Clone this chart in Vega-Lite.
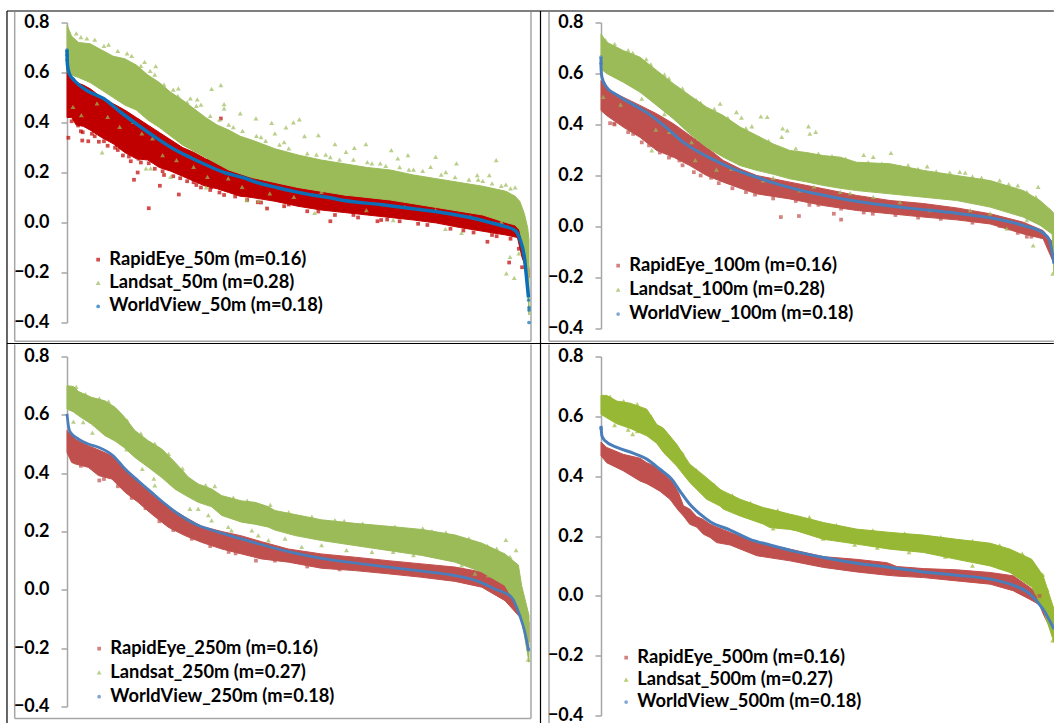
{"$schema":"https://vega.github.io/schema/vega-lite/v6.json","background":"white","padding":{"left":6,"top":9.5,"right":0,"bottom":0},"bounds":"flush","columns":2,"spacing":{"row":28,"column":72},"resolve":{"scale":{"color":"independent","shape":"independent"},"legend":{"color":"independent","shape":"independent"}},
"config":{"view":{"stroke":null},"axis":{"labelFont":"Lato","labelFontWeight":"bold","labelFontSize":18,"labelColor":"#000000","domainColor":"#a6a6a6","domainWidth":1.5,"tickColor":"#a6a6a6","tickWidth":1.5,"tickSize":6,"labelPadding":12,"grid":false,"title":null},"legend":{"labelFont":"Lato","labelFontWeight":"bold","labelFontSize":18.3,"labelColor":"#000000","title":null,"padding":0,"symbolSize":14,"labelOffset":2,"symbolStrokeWidth":0,"labelLimit":400},"area":{"strokeWidth":1},"point":{"filled":true,"strokeWidth":0}},
"datasets":{
"frameBlack":[{"x":-12.99,"x2":213.6,"y":0.846,"y2":0.846},{"x":-12.99,"x2":213.6,"y":-0.484,"y2":-0.484},{"x":-12.99,"x2":-12.99,"y":0.846,"y2":-2.004},{"x":102.49,"x2":102.49,"y":0.846,"y2":-2.004}],
"frameGrey":[{"x":-11.32,"x2":-11.32,"y":0.842,"y2":-0.475},{"x":100.43,"x2":100.43,"y":0.842,"y2":-0.475},{"x":-11.32,"x2":100.43,"y":-0.475,"y2":-0.475},{"x":104.33,"x2":104.33,"y":0.842,"y2":-0.475},{"x":104.33,"x2":213.6,"y":-0.475,"y2":-0.475},{"x":-11.32,"x2":-11.32,"y":-0.488,"y2":-1.984},{"x":100.43,"x2":100.43,"y":-0.488,"y2":-1.984},{"x":-11.32,"x2":100.43,"y":-1.984,"y2":-1.984},{"x":104.33,"x2":104.33,"y":-0.488,"y2":-2.004}],
"A_r":[{"x":0,"lo":0.42,"hi":0.62},{"x":1,"lo":0.42,"hi":0.58},{"x":2,"lo":0.39,"hi":0.56},{"x":3.5,"lo":0.385,"hi":0.55},{"x":5,"lo":0.37,"hi":0.535},{"x":7.5,"lo":0.34,"hi":0.5},{"x":10,"lo":0.315,"hi":0.475},{"x":12.5,"lo":0.28,"hi":0.45},{"x":15,"lo":0.255,"hi":0.42},{"x":17.5,"lo":0.25,"hi":0.39},{"x":20,"lo":0.22,"hi":0.36},{"x":22.5,"lo":0.205,"hi":0.33},{"x":25,"lo":0.185,"hi":0.3},{"x":27.5,"lo":0.165,"hi":0.28},{"x":30,"lo":0.145,"hi":0.255},{"x":32.5,"lo":0.135,"hi":0.24},{"x":35,"lo":0.12,"hi":0.22},{"x":37.5,"lo":0.105,"hi":0.2},{"x":40,"lo":0.1,"hi":0.19},{"x":45,"lo":0.085,"hi":0.16},{"x":50,"lo":0.065,"hi":0.14},{"x":55,"lo":0.05,"hi":0.125},{"x":60,"lo":0.04,"hi":0.115},{"x":65,"lo":0.03,"hi":0.1},{"x":70,"lo":0.02,"hi":0.09},{"x":75,"lo":0.01,"hi":0.08},{"x":80,"lo":-0.002,"hi":0.07},{"x":85,"lo":-0.02,"hi":0.06},{"x":90,"lo":-0.035,"hi":0.04},{"x":95,"lo":-0.05,"hi":0.02},{"x":97.5,"lo":-0.06,"hi":0.0},{"x":98.5,"lo":-0.14,"hi":-0.05},{"x":99.5,"lo":-0.19,"hi":-0.1},{"x":100,"lo":-0.22,"hi":-0.19}],
"A_l":[{"x":0,"lo":0.6,"hi":0.79},{"x":1,"lo":0.59,"hi":0.745},{"x":2.5,"lo":0.58,"hi":0.72},{"x":5,"lo":0.56,"hi":0.715},{"x":7.5,"lo":0.53,"hi":0.69},{"x":10,"lo":0.5,"hi":0.665},{"x":12.5,"lo":0.47,"hi":0.655},{"x":15,"lo":0.45,"hi":0.63},{"x":17.5,"lo":0.41,"hi":0.59},{"x":20,"lo":0.38,"hi":0.56},{"x":22.5,"lo":0.345,"hi":0.52},{"x":25,"lo":0.31,"hi":0.49},{"x":27.5,"lo":0.285,"hi":0.455},{"x":30,"lo":0.26,"hi":0.42},{"x":32.5,"lo":0.235,"hi":0.39},{"x":35,"lo":0.21,"hi":0.37},{"x":37.5,"lo":0.195,"hi":0.345},{"x":40,"lo":0.18,"hi":0.33},{"x":45,"lo":0.16,"hi":0.295},{"x":50,"lo":0.14,"hi":0.27},{"x":55,"lo":0.125,"hi":0.25},{"x":60,"lo":0.11,"hi":0.235},{"x":65,"lo":0.1,"hi":0.22},{"x":70,"lo":0.09,"hi":0.21},{"x":75,"lo":0.075,"hi":0.19},{"x":80,"lo":0.06,"hi":0.175},{"x":85,"lo":0.045,"hi":0.16},{"x":90,"lo":0.03,"hi":0.145},{"x":95,"lo":0.0,"hi":0.125},{"x":97,"lo":-0.01,"hi":0.105},{"x":98,"lo":-0.03,"hi":0.085},{"x":99,"lo":-0.12,"hi":0.035},{"x":99.7,"lo":-0.25,"hi":-0.02},{"x":100,"lo":-0.37,"hi":-0.07}],
"A_w":[{"x":0,"y":0.69},{"x":0.1,"y":0.63},{"x":0.5,"y":0.595},{"x":1.5,"y":0.57},{"x":4.3,"y":0.528},{"x":8,"y":0.495},{"x":11.7,"y":0.44},{"x":15.5,"y":0.388},{"x":19.2,"y":0.34},{"x":23,"y":0.295},{"x":26.7,"y":0.26},{"x":30.4,"y":0.228},{"x":34,"y":0.2},{"x":38,"y":0.18},{"x":41.7,"y":0.157},{"x":45.4,"y":0.14},{"x":49,"y":0.125},{"x":53,"y":0.11},{"x":56.6,"y":0.1},{"x":60,"y":0.088},{"x":67.8,"y":0.072},{"x":75,"y":0.055},{"x":82.8,"y":0.035},{"x":90,"y":0.008},{"x":94,"y":-0.012},{"x":97,"y":-0.032},{"x":98,"y":-0.065},{"x":99,"y":-0.14},{"x":99.6,"y":-0.245},{"x":99.9,"y":-0.3}],
"A_p":[{"s":"R","x":0.3,"y":0.339},{"s":"R","x":3.3,"y":0.328},{"s":"R","x":4.6,"y":0.325},{"s":"R","x":6.9,"y":0.323},{"s":"R","x":8.8,"y":0.307},{"s":"R","x":10.4,"y":0.299},{"s":"R","x":12.1,"y":0.268},{"s":"R","x":13.4,"y":0.264},{"s":"R","x":13.8,"y":0.245},{"s":"R","x":15.5,"y":0.255},{"s":"R","x":17.7,"y":0.237},{"s":"R","x":15.3,"y":0.2},{"s":"R","x":14.5,"y":0.171},{"s":"R","x":20.1,"y":0.147},{"s":"R","x":24.2,"y":0.112},{"s":"R","x":17.7,"y":0.057},{"s":"R","x":33.3,"y":0.416},{"s":"R","x":20.7,"y":0.205},{"s":"R","x":24.5,"y":0.177},{"s":"R","x":27.4,"y":0.161},{"s":"R","x":31.2,"y":0.141},{"s":"R","x":36.4,"y":0.104},{"s":"R","x":41.3,"y":0.081},{"s":"R","x":43.3,"y":0.056},{"s":"R","x":54.4,"y":0.044},{"s":"R","x":57,"y":0.005},{"s":"R","x":67.2,"y":0.005},{"s":"R","x":69.3,"y":0.012},{"s":"R","x":91,"y":-0.077},{"s":"R","x":95.7,"y":-0.16},{"s":"R","x":85.8,"y":-0.032},{"s":"R","x":3.4,"y":0.361},{"s":"R","x":5.4,"y":0.355},{"s":"R","x":2.4,"y":0.388},{"s":"R","x":97.8,"y":-0.105},{"s":"R","x":98.5,"y":-0.179},{"s":"R","x":48,"y":0.072},{"s":"R","x":62,"y":0.03},{"s":"R","x":76,"y":-0.005},{"s":"R","x":88,"y":-0.04},{"s":"R","x":93,"y":-0.055},{"s":"R","x":1,"y":0.405},{"s":"R","x":3,"y":0.365},{"s":"R","x":6,"y":0.345},{"s":"R","x":8,"y":0.325},{"s":"R","x":11,"y":0.29},{"s":"R","x":16,"y":0.24},{"s":"R","x":19,"y":0.215},{"s":"R","x":21,"y":0.19},{"s":"R","x":23,"y":0.185},{"s":"R","x":26,"y":0.165},{"s":"R","x":28,"y":0.15},{"s":"R","x":29,"y":0.14},{"s":"R","x":31,"y":0.13},{"s":"R","x":33,"y":0.12},{"s":"R","x":34,"y":0.11},{"s":"R","x":39,"y":0.09},{"s":"R","x":42,"y":0.08},{"s":"R","x":47,"y":0.065},{"s":"R","x":52,"y":0.045},{"s":"R","x":58,"y":0.03},{"s":"R","x":63,"y":0.02},{"s":"R","x":68,"y":0.01},{"s":"R","x":72,"y":0.005},{"s":"R","x":78,"y":-0.01},{"s":"R","x":83,"y":-0.025},{"s":"R","x":92,"y":-0.05},{"s":"R","x":96,"y":-0.065},
{"s":"L","x":33.3,"y":0.548},{"s":"L","x":31.3,"y":0.533},{"s":"L","x":34,"y":0.472},{"s":"L","x":34,"y":0.455},{"s":"L","x":37.5,"y":0.435},{"s":"L","x":40.9,"y":0.415},{"s":"L","x":44.3,"y":0.397},{"s":"L","x":50.3,"y":0.411},{"s":"L","x":49,"y":0.399},{"s":"L","x":47.4,"y":0.379},{"s":"L","x":45,"y":0.355},{"s":"L","x":54.4,"y":0.348},{"s":"L","x":51.4,"y":0.344},{"s":"L","x":58,"y":0.312},{"s":"L","x":62.2,"y":0.297},{"s":"L","x":64.7,"y":0.312},{"s":"L","x":70.2,"y":0.288},{"s":"L","x":79.8,"y":0.261},{"s":"L","x":92.9,"y":0.248},{"s":"L","x":84.3,"y":0.235},{"s":"L","x":73.8,"y":0.268},{"s":"L","x":60.4,"y":0.281},{"s":"L","x":95.1,"y":-0.205},{"s":"L","x":96.8,"y":-0.223},{"s":"L","x":85.4,"y":-0.043},{"s":"L","x":81.9,"y":-0.027},{"s":"L","x":53.6,"y":0.037},{"s":"L","x":7.6,"y":0.279},{"s":"L","x":17.1,"y":0.215},{"s":"L","x":18.1,"y":0.215},{"s":"L","x":22.4,"y":0.181},{"s":"L","x":30.1,"y":0.139},{"s":"L","x":38.9,"y":0.088},{"s":"L","x":41.5,"y":0.085},{"s":"L","x":95.9,"y":-0.139},{"s":"L","x":70.6,"y":0.008},{"s":"L","x":16.8,"y":0.641},{"s":"L","x":19.2,"y":0.624},{"s":"L","x":4.3,"y":0.735},{"s":"L","x":24.1,"y":0.535},{"s":"L","x":26.7,"y":0.495},{"s":"L","x":28.2,"y":0.491},{"s":"L","x":97,"y":0.139},{"s":"L","x":91.4,"y":0.188},{"s":"L","x":88.8,"y":0.188},{"s":"L","x":67.8,"y":0.235},{"s":"L","x":78.7,"y":0.221},{"s":"L","x":71.6,"y":0.255},{"s":"L","x":1.3,"y":0.461},{"s":"L","x":3.1,"y":0.428},{"s":"L","x":6.5,"y":0.475},{"s":"L","x":8.8,"y":0.421},{"s":"L","x":11.4,"y":0.381},{"s":"L","x":14.4,"y":0.401},{"s":"L","x":16.2,"y":0.355},{"s":"L","x":18.5,"y":0.335},{"s":"L","x":20.7,"y":0.268},{"s":"L","x":23.7,"y":0.248},{"s":"L","x":27.4,"y":0.221},{"s":"L","x":30.4,"y":0.181},{"s":"L","x":34.9,"y":0.175},{"s":"L","x":37.9,"y":0.141},{"s":"L","x":43.9,"y":0.115},{"s":"L","x":49.1,"y":0.101},{"s":"L","x":55.1,"y":0.121},{"s":"L","x":60.4,"y":0.115},{"s":"L","x":64.8,"y":0.048},{"s":"L","x":73.1,"y":0.061},{"s":"L","x":79.8,"y":0.048},{"s":"L","x":87.3,"y":0.021},{"s":"L","x":94,"y":0.001},{"s":"L","x":97.8,"y":-0.125},{"s":"L","x":12,"y":0.5},{"s":"L","x":15.5,"y":0.47},{"s":"L","x":29,"y":0.47},{"s":"L","x":36,"y":0.38},{"s":"L","x":42,"y":0.34},{"s":"L","x":47,"y":0.32},{"s":"L","x":56,"y":0.27},{"s":"L","x":65,"y":0.24},{"s":"L","x":75,"y":0.21},{"s":"L","x":82,"y":0.2},{"s":"L","x":90,"y":0.165},{"s":"L","x":95,"y":0.15},{"s":"L","x":2,"y":0.755},{"s":"L","x":3,"y":0.74},{"s":"L","x":6,"y":0.73},{"s":"L","x":8,"y":0.705},{"s":"L","x":9,"y":0.71},{"s":"L","x":11,"y":0.685},{"s":"L","x":13,"y":0.675},{"s":"L","x":14,"y":0.665},{"s":"L","x":16,"y":0.625},{"s":"L","x":18,"y":0.605},{"s":"L","x":19,"y":0.59},{"s":"L","x":21,"y":0.55},{"s":"L","x":23,"y":0.53},{"s":"L","x":24,"y":0.505},{"s":"L","x":26,"y":0.48},{"s":"L","x":28,"y":0.465},{"s":"L","x":31,"y":0.425},{"s":"L","x":33,"y":0.41},{"s":"L","x":35,"y":0.39},{"s":"L","x":38,"y":0.365},{"s":"L","x":41,"y":0.345},{"s":"L","x":43,"y":0.325},{"s":"L","x":46,"y":0.31},{"s":"L","x":48,"y":0.295},{"s":"L","x":52,"y":0.275},{"s":"L","x":54,"y":0.27},{"s":"L","x":57,"y":0.26},{"s":"L","x":59,"y":0.25},{"s":"L","x":62,"y":0.25},{"s":"L","x":66,"y":0.235},{"s":"L","x":69,"y":0.225},{"s":"L","x":72,"y":0.22},{"s":"L","x":74,"y":0.21},{"s":"L","x":77,"y":0.205},{"s":"L","x":81,"y":0.19},{"s":"L","x":84,"y":0.18},{"s":"L","x":87,"y":0.17},{"s":"L","x":89,"y":0.17},{"s":"L","x":92,"y":0.155},{"s":"L","x":94,"y":0.145},{"s":"L","x":96,"y":0.135},
{"s":"W","x":0,"y":0.69},{"s":"W","x":0,"y":0.67},{"s":"W","x":0,"y":0.65},{"s":"W","x":99.9,"y":-0.31},{"s":"W","x":100,"y":-0.34},{"s":"W","x":100,"y":-0.35},{"s":"W","x":100,"y":-0.4}],
"B_r":[{"x":0,"lo":0.455,"hi":0.572},{"x":1.25,"lo":0.435,"hi":0.54},{"x":4.9,"lo":0.39,"hi":0.507},{"x":8.6,"lo":0.35,"hi":0.475},{"x":12.3,"lo":0.298,"hi":0.442},{"x":16,"lo":0.272,"hi":0.403},{"x":19.6,"lo":0.239,"hi":0.357},{"x":23.3,"lo":0.2,"hi":0.311},{"x":27,"lo":0.174,"hi":0.259},{"x":30.7,"lo":0.15,"hi":0.226},{"x":34.4,"lo":0.128,"hi":0.2},{"x":41.7,"lo":0.108,"hi":0.174},{"x":49.1,"lo":0.082,"hi":0.148},{"x":56.4,"lo":0.063,"hi":0.122},{"x":63.8,"lo":0.05,"hi":0.102},{"x":71.2,"lo":0.037,"hi":0.09},{"x":78.5,"lo":0.026,"hi":0.073},{"x":85.9,"lo":0.01,"hi":0.05},{"x":93.2,"lo":-0.029,"hi":0.017},{"x":97.6,"lo":-0.048,"hi":-0.016},{"x":100,"lo":-0.146,"hi":-0.068}],
"B_l":[{"x":0,"lo":0.618,"hi":0.755},{"x":1.25,"lo":0.6,"hi":0.723},{"x":4.9,"lo":0.566,"hi":0.69},{"x":8.6,"lo":0.527,"hi":0.664},{"x":12.3,"lo":0.475,"hi":0.612},{"x":16,"lo":0.422,"hi":0.56},{"x":19.6,"lo":0.363,"hi":0.514},{"x":23.3,"lo":0.311,"hi":0.468},{"x":27,"lo":0.272,"hi":0.435},{"x":30.7,"lo":0.239,"hi":0.39},{"x":34.4,"lo":0.22,"hi":0.357},{"x":38,"lo":0.205,"hi":0.324},{"x":41.7,"lo":0.187,"hi":0.298},{"x":45.4,"lo":0.175,"hi":0.29},{"x":49.1,"lo":0.161,"hi":0.278},{"x":52.8,"lo":0.15,"hi":0.272},{"x":56.4,"lo":0.141,"hi":0.252},{"x":63.8,"lo":0.128,"hi":0.246},{"x":71.2,"lo":0.115,"hi":0.22},{"x":78.5,"lo":0.102,"hi":0.2},{"x":85.9,"lo":0.076,"hi":0.18},{"x":93.2,"lo":0.037,"hi":0.141},{"x":96.9,"lo":0.005,"hi":0.102},{"x":99.6,"lo":-0.03,"hi":0.06},{"x":100,"lo":-0.185,"hi":0.05}],
"B_w":[{"x":0,"y":0.664},{"x":0,"y":0.625},{"x":0.2,"y":0.586},{"x":1.25,"y":0.546},{"x":3.1,"y":0.52},{"x":4.9,"y":0.5},{"x":7.1,"y":0.478},{"x":10,"y":0.448},{"x":12.3,"y":0.418},{"x":15.2,"y":0.376},{"x":18.2,"y":0.33},{"x":21,"y":0.298},{"x":24,"y":0.269},{"x":29.2,"y":0.226},{"x":34.4,"y":0.193},{"x":38.8,"y":0.167},{"x":44.7,"y":0.139},{"x":51.3,"y":0.115},{"x":58.6,"y":0.093},{"x":67.5,"y":0.073},{"x":78.5,"y":0.052},{"x":85.9,"y":0.034},{"x":93.2,"y":0.004},{"x":97.6,"y":-0.025},{"x":99,"y":-0.055},{"x":100,"y":-0.146}],
"B_p":[{"s":"R","x":39.7,"y":0.037},{"s":"R","x":43.7,"y":0.041},{"s":"R","x":51.4,"y":0.05},{"s":"R","x":53,"y":0.027},{"s":"R","x":10.6,"y":0.318},{"s":"R","x":2,"y":0.405},{"s":"R","x":2.9,"y":0.403},{"s":"R","x":7.1,"y":0.363},{"s":"R","x":15.6,"y":0.278},{"s":"R","x":17.3,"y":0.259},{"s":"R","x":20.5,"y":0.213},{"s":"R","x":24.3,"y":0.191},{"s":"R","x":28.1,"y":0.174},{"s":"R","x":34,"y":0.125},{"s":"R","x":36,"y":0.138},{"s":"R","x":46,"y":0.085},{"s":"R","x":60,"y":0.05},{"s":"R","x":94,"y":-0.04},{"s":"R","x":3,"y":0.4},{"s":"R","x":6,"y":0.37},{"s":"R","x":9,"y":0.33},{"s":"R","x":13,"y":0.29},{"s":"R","x":15,"y":0.27},{"s":"R","x":18,"y":0.24},{"s":"R","x":22,"y":0.2},{"s":"R","x":26,"y":0.17},{"s":"R","x":29,"y":0.15},{"s":"R","x":32,"y":0.135},{"s":"R","x":38,"y":0.11},{"s":"R","x":43,"y":0.1},{"s":"R","x":48,"y":0.085},{"s":"R","x":53,"y":0.07},{"s":"R","x":58,"y":0.055},{"s":"R","x":65,"y":0.045},{"s":"R","x":70,"y":0.035},{"s":"R","x":75,"y":0.03},{"s":"R","x":82,"y":0.015},{"s":"R","x":88,"y":0.002},{"s":"R","x":92,"y":-0.025},{"s":"R","x":95,"y":-0.04},
{"s":"L","x":35.3,"y":0.431},{"s":"L","x":36.7,"y":0.429},{"s":"L","x":40.1,"y":0.384},{"s":"L","x":41.1,"y":0.376},{"s":"L","x":45.8,"y":0.392},{"s":"L","x":47.4,"y":0.37},{"s":"L","x":46.1,"y":0.363},{"s":"L","x":39.9,"y":0.35},{"s":"L","x":26.3,"y":0.481},{"s":"L","x":29.9,"y":0.448},{"s":"L","x":31,"y":0.426},{"s":"L","x":33.3,"y":0.392},{"s":"L","x":60.1,"y":0.272},{"s":"L","x":64,"y":0.288},{"s":"L","x":67.8,"y":0.239},{"s":"L","x":79.2,"y":0.213},{"s":"L","x":80.4,"y":0.21},{"s":"L","x":96.5,"y":0.154},{"s":"L","x":89.6,"y":-0.009},{"s":"L","x":95.4,"y":-0.075},{"s":"L","x":99.7,"y":-0.186},{"s":"L","x":11.2,"y":0.298},{"s":"L","x":4.3,"y":0.477},{"s":"L","x":0.5,"y":0.507},{"s":"L","x":12.1,"y":0.379},{"s":"L","x":15.1,"y":0.37},{"s":"L","x":20.8,"y":0.259},{"s":"L","x":25.5,"y":0.222},{"s":"L","x":28.8,"y":0.226},{"s":"L","x":35.8,"y":0.18},{"s":"L","x":43.9,"y":0.141},{"s":"L","x":52.8,"y":0.135},{"s":"L","x":60.1,"y":0.115},{"s":"L","x":66,"y":0.095},{"s":"L","x":72.6,"y":0.063},{"s":"L","x":81.5,"y":0.063},{"s":"L","x":85.9,"y":0.05},{"s":"L","x":94,"y":0.024},{"s":"L","x":9,"y":0.5},{"s":"L","x":14,"y":0.44},{"s":"L","x":20,"y":0.33},{"s":"L","x":38,"y":0.19},{"s":"L","x":47,"y":0.155},{"s":"L","x":55,"y":0.13},{"s":"L","x":58,"y":0.28},{"s":"L","x":72,"y":0.235},{"s":"L","x":88,"y":0.18},{"s":"L","x":92,"y":0.16},{"s":"L","x":1,"y":0.73},{"s":"L","x":3,"y":0.715},{"s":"L","x":6,"y":0.69},{"s":"L","x":7,"y":0.68},{"s":"L","x":10,"y":0.655},{"s":"L","x":11,"y":0.635},{"s":"L","x":14,"y":0.595},{"s":"L","x":15,"y":0.58},{"s":"L","x":18,"y":0.54},{"s":"L","x":21,"y":0.495},{"s":"L","x":22,"y":0.485},{"s":"L","x":25,"y":0.46},{"s":"L","x":28,"y":0.425},{"s":"L","x":32,"y":0.385},{"s":"L","x":35,"y":0.345},{"s":"L","x":37,"y":0.335},{"s":"L","x":43,"y":0.305},{"s":"L","x":48,"y":0.285},{"s":"L","x":51,"y":0.275},{"s":"L","x":54,"y":0.265},{"s":"L","x":59,"y":0.25},{"s":"L","x":62,"y":0.245},{"s":"L","x":66,"y":0.235},{"s":"L","x":70,"y":0.225},{"s":"L","x":74,"y":0.215},{"s":"L","x":77,"y":0.21},{"s":"L","x":82,"y":0.195},{"s":"L","x":84,"y":0.19},{"s":"L","x":90,"y":0.165},{"s":"L","x":94,"y":0.135},{"s":"L","x":96,"y":0.115},
{"s":"W","x":0,"y":0.664},{"s":"W","x":0,"y":0.64}],
"C_r":[{"x":0,"lo":0.471,"hi":0.546},{"x":1,"lo":0.437,"hi":0.53},{"x":1.7,"lo":0.432,"hi":0.517},{"x":4.6,"lo":0.42,"hi":0.494},{"x":6.8,"lo":0.392,"hi":0.48},{"x":9.7,"lo":0.38,"hi":0.46},{"x":12.6,"lo":0.334,"hi":0.412},{"x":15.4,"lo":0.3,"hi":0.369},{"x":18.3,"lo":0.26,"hi":0.329},{"x":21.9,"lo":0.215,"hi":0.285},{"x":25.5,"lo":0.186,"hi":0.25},{"x":29.1,"lo":0.163,"hi":0.218},{"x":33.5,"lo":0.14,"hi":0.2},{"x":37.8,"lo":0.123,"hi":0.185},{"x":42.1,"lo":0.106,"hi":0.165},{"x":47.9,"lo":0.095,"hi":0.14},{"x":55.1,"lo":0.074,"hi":0.123},{"x":62.3,"lo":0.066,"hi":0.112},{"x":69.5,"lo":0.055,"hi":0.1},{"x":76.8,"lo":0.043,"hi":0.089},{"x":84,"lo":0.029,"hi":0.078},{"x":89.8,"lo":0.009,"hi":0.061},{"x":94.8,"lo":-0.037,"hi":0.02},{"x":97.7,"lo":-0.088,"hi":-0.02},{"x":98.4,"lo":-0.1,"hi":-0.065},{"x":100,"lo":-0.179,"hi":-0.111}],
"C_l":[{"x":0,"lo":0.62,"hi":0.7},{"x":1.4,"lo":0.61,"hi":0.697},{"x":2.5,"lo":0.597,"hi":0.68},{"x":5.3,"lo":0.568,"hi":0.66},{"x":8.2,"lo":0.529,"hi":0.648},{"x":10.4,"lo":0.51,"hi":0.626},{"x":12.2,"lo":0.49,"hi":0.597},{"x":14.7,"lo":0.454,"hi":0.546},{"x":17.6,"lo":0.42,"hi":0.511},{"x":20.5,"lo":0.385,"hi":0.483},{"x":23.4,"lo":0.345,"hi":0.437},{"x":26.3,"lo":0.318,"hi":0.386},{"x":28.4,"lo":0.3,"hi":0.363},{"x":31.3,"lo":0.285,"hi":0.346},{"x":33.5,"lo":0.255,"hi":0.323},{"x":37.8,"lo":0.232,"hi":0.305},{"x":40.7,"lo":0.225,"hi":0.3},{"x":43.6,"lo":0.215,"hi":0.285},{"x":45,"lo":0.205,"hi":0.272},{"x":49.4,"lo":0.186,"hi":0.258},{"x":55.1,"lo":0.169,"hi":0.24},{"x":62.3,"lo":0.152,"hi":0.228},{"x":69.5,"lo":0.135,"hi":0.218},{"x":76.8,"lo":0.118,"hi":0.207},{"x":84,"lo":0.095,"hi":0.188},{"x":89.8,"lo":0.061,"hi":0.16},{"x":94.8,"lo":0.015,"hi":0.123},{"x":97.7,"lo":-0.065,"hi":0.085},{"x":98.4,"lo":-0.1,"hi":0.015},{"x":100,"lo":-0.248,"hi":-0.088}],
"C_w":[{"x":0,"y":0.603},{"x":0.3,"y":0.563},{"x":0.65,"y":0.542},{"x":2.5,"y":0.517},{"x":4.6,"y":0.5},{"x":6.8,"y":0.489},{"x":10,"y":0.46},{"x":12.6,"y":0.414},{"x":15.4,"y":0.374},{"x":18.3,"y":0.334},{"x":21.2,"y":0.295},{"x":24.1,"y":0.26},{"x":27.7,"y":0.226},{"x":31.3,"y":0.205},{"x":35.6,"y":0.184},{"x":40.7,"y":0.161},{"x":47.9,"y":0.131},{"x":55.1,"y":0.108},{"x":62.3,"y":0.092},{"x":69.5,"y":0.078},{"x":76.8,"y":0.064},{"x":84,"y":0.049},{"x":89,"y":0.029},{"x":92.6,"y":0.003},{"x":96.2,"y":-0.025},{"x":98,"y":-0.088},{"x":99.1,"y":-0.145},{"x":99.9,"y":-0.208}],
"C_p":[{"s":"R","x":36.5,"y":0.125},{"s":"R","x":40.9,"y":0.1},{"s":"R","x":7,"y":0.375},{"s":"R","x":96.5,"y":-0.04},{"s":"R","x":3,"y":0.425},{"s":"R","x":8,"y":0.38},{"s":"R","x":11,"y":0.355},{"s":"R","x":14,"y":0.315},{"s":"R","x":17,"y":0.28},{"s":"R","x":20,"y":0.235},{"s":"R","x":23,"y":0.205},{"s":"R","x":27,"y":0.175},{"s":"R","x":31,"y":0.15},{"s":"R","x":35,"y":0.13},{"s":"R","x":45,"y":0.1},{"s":"R","x":52,"y":0.08},{"s":"R","x":59,"y":0.07},
{"s":"L","x":1.4,"y":0.576},{"s":"L","x":3.5,"y":0.574},{"s":"L","x":5.5,"y":0.538},{"s":"L","x":8.6,"y":0.534},{"s":"L","x":12.9,"y":0.481},{"s":"L","x":16.3,"y":0.414},{"s":"L","x":18.8,"y":0.38},{"s":"L","x":19,"y":0.357},{"s":"L","x":26.6,"y":0.277},{"s":"L","x":28.4,"y":0.277},{"s":"L","x":30.6,"y":0.255},{"s":"L","x":31.3,"y":0.237},{"s":"L","x":34.9,"y":0.215},{"s":"L","x":35.6,"y":0.203},{"s":"L","x":40,"y":0.203},{"s":"L","x":41.4,"y":0.186},{"s":"L","x":43.6,"y":0.169},{"s":"L","x":47.2,"y":0.175},{"s":"L","x":50.8,"y":0.146},{"s":"L","x":55.1,"y":0.152},{"s":"L","x":60.5,"y":0.135},{"s":"L","x":66,"y":0.129},{"s":"L","x":70.6,"y":0.129},{"s":"L","x":75,"y":0.118},{"s":"L","x":79.7,"y":0.118},{"s":"L","x":85.4,"y":0.083},{"s":"L","x":88.3,"y":0.055},{"s":"L","x":91.2,"y":0.049},{"s":"L","x":95.9,"y":0.112},{"s":"L","x":97.3,"y":0.083},{"s":"L","x":95,"y":0.17},{"s":"L","x":97.2,"y":0.135},{"s":"L","x":77,"y":0.21},{"s":"L","x":60,"y":0.235},{"s":"L","x":32,"y":0.355},{"s":"L","x":21,"y":0.47},{"s":"L","x":99.8,"y":-0.24},{"s":"L","x":2,"y":0.695},{"s":"L","x":4,"y":0.67},{"s":"L","x":7,"y":0.655},{"s":"L","x":9,"y":0.645},{"s":"L","x":13,"y":0.58},{"s":"L","x":16,"y":0.535},{"s":"L","x":19,"y":0.5},{"s":"L","x":22,"y":0.465},{"s":"L","x":25,"y":0.415},{"s":"L","x":30,"y":0.358},{"s":"L","x":36,"y":0.315},{"s":"L","x":39,"y":0.305},{"s":"L","x":44,"y":0.29},{"s":"L","x":48,"y":0.265},{"s":"L","x":53,"y":0.25},{"s":"L","x":58,"y":0.238},{"s":"L","x":64,"y":0.226},{"s":"L","x":71,"y":0.216},{"s":"L","x":79,"y":0.2},{"s":"L","x":82,"y":0.196},{"s":"L","x":87,"y":0.175},{"s":"L","x":91,"y":0.15},{"s":"L","x":93,"y":0.14},
{"s":"W","x":99.9,"y":-0.205}],
"D_r":[{"x":0,"lo":0.468,"hi":0.514},{"x":1.25,"lo":0.445,"hi":0.496},{"x":4.9,"lo":0.418,"hi":0.473},{"x":8.6,"lo":0.384,"hi":0.46},{"x":10.1,"lo":0.375,"hi":0.445},{"x":11.6,"lo":0.362,"hi":0.435},{"x":13,"lo":0.35,"hi":0.418},{"x":15.2,"lo":0.323,"hi":0.39},{"x":15.6,"lo":0.315,"hi":0.384},{"x":17.1,"lo":0.285,"hi":0.345},{"x":18.2,"lo":0.267,"hi":0.301},{"x":19.6,"lo":0.239,"hi":0.29},{"x":21.1,"lo":0.23,"hi":0.265},{"x":22.6,"lo":0.206,"hi":0.255},{"x":24.1,"lo":0.195,"hi":0.239},{"x":25.5,"lo":0.178,"hi":0.23},{"x":28.5,"lo":0.17,"hi":0.212},{"x":34.4,"lo":0.134,"hi":0.178},{"x":41.7,"lo":0.117,"hi":0.156},{"x":49.1,"lo":0.095,"hi":0.131},{"x":56.4,"lo":0.08,"hi":0.122},{"x":63.1,"lo":0.069,"hi":0.111},{"x":65.3,"lo":0.066,"hi":0.098},{"x":71.2,"lo":0.061,"hi":0.091},{"x":78.5,"lo":0.05,"hi":0.087},{"x":85.9,"lo":0.039,"hi":0.078},{"x":91,"lo":0.017,"hi":0.067},{"x":94.7,"lo":-0.012,"hi":0.028},{"x":96.8,"lo":-0.03,"hi":0.0},{"x":97.6,"lo":-0.06,"hi":-0.045},{"x":100,"lo":-0.134,"hi":-0.122}],
"D_l":[{"x":0,"lo":0.607,"hi":0.67},{"x":1.25,"lo":0.595,"hi":0.67},{"x":3.5,"lo":0.575,"hi":0.651},{"x":6.4,"lo":0.56,"hi":0.644},{"x":10.1,"lo":0.535,"hi":0.624},{"x":12.3,"lo":0.51,"hi":0.573},{"x":13.8,"lo":0.479,"hi":0.56},{"x":16.7,"lo":0.434,"hi":0.507},{"x":19.6,"lo":0.379,"hi":0.44},{"x":23.3,"lo":0.323,"hi":0.395},{"x":26.3,"lo":0.3,"hi":0.356},{"x":27,"lo":0.29,"hi":0.35},{"x":30.7,"lo":0.267,"hi":0.323},{"x":35.8,"lo":0.24,"hi":0.295},{"x":37.3,"lo":0.228,"hi":0.29},{"x":41.7,"lo":0.222,"hi":0.273},{"x":43.2,"lo":0.217,"hi":0.268},{"x":49.1,"lo":0.189,"hi":0.245},{"x":56.4,"lo":0.173,"hi":0.223},{"x":63.8,"lo":0.156,"hi":0.212},{"x":71.2,"lo":0.145,"hi":0.203},{"x":78.5,"lo":0.122,"hi":0.189},{"x":85.9,"lo":0.1,"hi":0.176},{"x":90.3,"lo":0.078,"hi":0.156},{"x":94.7,"lo":0.033,"hi":0.125},{"x":95.1,"lo":0.03,"hi":0.122},{"x":97.6,"lo":-0.045,"hi":0.067},{"x":100,"lo":-0.156,"hi":-0.045}],
"D_w":[{"x":0,"y":0.568},{"x":0.2,"y":0.535},{"x":0.9,"y":0.518},{"x":3.5,"y":0.496},{"x":7.1,"y":0.477},{"x":10.1,"y":0.457},{"x":13,"y":0.423},{"x":15.6,"y":0.39},{"x":17.4,"y":0.351},{"x":19.6,"y":0.306},{"x":21.9,"y":0.273},{"x":24.1,"y":0.248},{"x":28.5,"y":0.22},{"x":32.9,"y":0.189},{"x":37.3,"y":0.17},{"x":43.2,"y":0.147},{"x":49.1,"y":0.128},{"x":56.4,"y":0.109},{"x":63.8,"y":0.095},{"x":71.2,"y":0.08},{"x":78.5,"y":0.069},{"x":85.9,"y":0.056},{"x":90.3,"y":0.039},{"x":94.7,"y":0.006},{"x":97.6,"y":-0.045},{"x":100,"y":-0.111}],
"D_p":[{"s":"R","x":96.8,"y":0.0},{"s":"R","x":95.8,"y":-0.005},
{"s":"L","x":3,"y":0.57},{"s":"L","x":6,"y":0.555},{"s":"L","x":8,"y":0.55},{"s":"L","x":7,"y":0.54},{"s":"L","x":11,"y":0.59},{"s":"L","x":38,"y":0.225},{"s":"L","x":49,"y":0.19},{"s":"L","x":56,"y":0.17},{"s":"L","x":61,"y":0.16},{"s":"L","x":68,"y":0.145},{"s":"L","x":76,"y":0.13},{"s":"L","x":82,"y":0.1},{"s":"L","x":88,"y":0.095},{"s":"L","x":92,"y":0.07},{"s":"L","x":96,"y":0.09},{"s":"L","x":97.5,"y":0.07},{"s":"L","x":98.5,"y":0.02},{"s":"L","x":99.7,"y":-0.15},{"s":"L","x":2,"y":0.665},{"s":"L","x":5,"y":0.65},{"s":"L","x":8,"y":0.64},{"s":"L","x":11,"y":0.6},{"s":"L","x":15,"y":0.53},{"s":"L","x":18,"y":0.475},{"s":"L","x":21,"y":0.42},{"s":"L","x":25,"y":0.37},{"s":"L","x":29,"y":0.335},{"s":"L","x":33,"y":0.31},{"s":"L","x":39,"y":0.285},{"s":"L","x":46,"y":0.262},{"s":"L","x":52,"y":0.235},{"s":"L","x":60,"y":0.218},{"s":"L","x":67,"y":0.208},{"s":"L","x":75,"y":0.195},{"s":"L","x":82,"y":0.183},{"s":"L","x":88,"y":0.168},{"s":"L","x":93,"y":0.14},
{"s":"W","x":0,"y":0.56}]
},
"concat":[
{"width":462,"height":300,"layer":[
{"data":{"name":"frameGrey"},"mark":{"type":"rule","color":"#a6a6a6","strokeWidth":1.5,"clip":false},"encoding":{"x":{"field":"x","type":"quantitative","scale":{"domain":[0,100],"nice":false,"zero":false},"axis":null},"x2":{"field":"x2"},"y":{"field":"y","type":"quantitative","scale":{"domain":[-0.4,0.8],"nice":false,"zero":false},"axis":{"values":[-0.4,-0.2,0,0.2,0.4,0.6,0.8],"format":".1f"}},"y2":{"field":"y2"}}},
{"data":{"name":"frameBlack"},"mark":{"type":"rule","color":"#000000","strokeWidth":1.2,"clip":false},"encoding":{"x":{"field":"x","type":"quantitative"},"x2":{"field":"x2"},"y":{"field":"y","type":"quantitative"},"y2":{"field":"y2"}}},
{"data":{"name":"A_r"},"mark":{"type":"area","color":"#c00000","stroke":"#c00000"},"encoding":{"x":{"field":"x","type":"quantitative"},"y":{"field":"lo","type":"quantitative"},"y2":{"field":"hi"}}},
{"data":{"name":"A_l"},"mark":{"type":"area","color":"#9bbb59","stroke":"#9bbb59"},"encoding":{"x":{"field":"x","type":"quantitative"},"y":{"field":"lo","type":"quantitative"},"y2":{"field":"hi"}}},
{"data":{"name":"A_p"},"mark":{"type":"point","filled":true,"size":14},"encoding":{"x":{"field":"x","type":"quantitative"},"y":{"field":"y","type":"quantitative"},"color":{"field":"s","type":"nominal","scale":{"domain":["R","L","W"],"range":["#c00000","#9bbb59","#0b6fb8"]},"legend":{"orient":"none","legendX":22,"legendY":228,"rowPadding":4.4,"labelExpr":"datum.label=='R'?'RapidEye_50m (m=0.16)':datum.label=='L'?'Landsat_50m (m=0.28)':'WorldView_50m (m=0.18)'"}},"shape":{"field":"s","type":"nominal","scale":{"domain":["R","L","W"],"range":["square","M0,-1.3L1.3,1L-1.3,1Z","circle"]},"legend":{"orient":"none","legendX":22,"legendY":228,"rowPadding":4.4,"labelExpr":"datum.label=='R'?'RapidEye_50m (m=0.16)':datum.label=='L'?'Landsat_50m (m=0.28)':'WorldView_50m (m=0.18)'"}}}},
{"data":{"name":"A_w"},"mark":{"type":"line","color":"#0b6fb8","strokeWidth":3.5,"interpolate":"monotone"},"encoding":{"x":{"field":"x","type":"quantitative"},"y":{"field":"y","type":"quantitative"}}}
]},
{"width":453,"height":306,"layer":[
{"data":{"name":"B_r"},"mark":{"type":"area","color":"#c0504d","stroke":"#c0504d"},"encoding":{"x":{"field":"x","type":"quantitative","scale":{"domain":[0,100],"nice":false,"zero":false},"axis":null},"y":{"field":"lo","type":"quantitative","scale":{"domain":[-0.4,0.8],"nice":false,"zero":false},"axis":{"values":[-0.4,-0.2,0,0.2,0.4,0.6,0.8],"format":".1f"}},"y2":{"field":"hi"}}},
{"data":{"name":"B_l"},"mark":{"type":"area","color":"#9bbb59","stroke":"#9bbb59"},"encoding":{"x":{"field":"x","type":"quantitative"},"y":{"field":"lo","type":"quantitative"},"y2":{"field":"hi"}}},
{"data":{"name":"B_p"},"mark":{"type":"point","filled":true,"size":14},"encoding":{"x":{"field":"x","type":"quantitative"},"y":{"field":"y","type":"quantitative"},"color":{"field":"s","type":"nominal","scale":{"domain":["R","L","W"],"range":["#c0504d","#9bbb59","#4f81bd"]},"legend":{"orient":"none","legendX":8,"legendY":234,"rowPadding":5.2,"labelExpr":"datum.label=='R'?'RapidEye_100m (m=0.16)':datum.label=='L'?'Landsat_100m (m=0.28)':'WorldView_100m (m=0.18)'"}},"shape":{"field":"s","type":"nominal","scale":{"domain":["R","L","W"],"range":["square","M0,-1.3L1.3,1L-1.3,1Z","circle"]},"legend":{"orient":"none","legendX":8,"legendY":234,"rowPadding":5.2,"labelExpr":"datum.label=='R'?'RapidEye_100m (m=0.16)':datum.label=='L'?'Landsat_100m (m=0.28)':'WorldView_100m (m=0.18)'"}}}},
{"data":{"name":"B_w"},"mark":{"type":"line","color":"#4a7ebb","strokeWidth":3,"interpolate":"monotone"},"encoding":{"x":{"field":"x","type":"quantitative"},"y":{"field":"y","type":"quantitative"}}}
]},
{"width":462,"height":350,"layer":[
{"data":{"name":"C_r"},"mark":{"type":"area","color":"#c0504d","stroke":"#c0504d"},"encoding":{"x":{"field":"x","type":"quantitative","scale":{"domain":[0,100],"nice":false,"zero":false},"axis":null},"y":{"field":"lo","type":"quantitative","scale":{"domain":[-0.4,0.8],"nice":false,"zero":false},"axis":{"values":[-0.4,-0.2,0,0.2,0.4,0.6,0.8],"format":".1f"}},"y2":{"field":"hi"}}},
{"data":{"name":"C_l"},"mark":{"type":"area","color":"#9bbb59","stroke":"#9bbb59"},"encoding":{"x":{"field":"x","type":"quantitative"},"y":{"field":"lo","type":"quantitative"},"y2":{"field":"hi"}}},
{"data":{"name":"C_p"},"mark":{"type":"point","filled":true,"size":14},"encoding":{"x":{"field":"x","type":"quantitative"},"y":{"field":"y","type":"quantitative"},"color":{"field":"s","type":"nominal","scale":{"domain":["R","L","W"],"range":["#c0504d","#9bbb59","#4f81bd"]},"legend":{"orient":"none","legendX":23,"legendY":283,"rowPadding":5,"labelExpr":"datum.label=='R'?'RapidEye_250m (m=0.16)':datum.label=='L'?'Landsat_250m (m=0.27)':'WorldView_250m (m=0.18)'"}},"shape":{"field":"s","type":"nominal","scale":{"domain":["R","L","W"],"range":["square","M0,-1.3L1.3,1L-1.3,1Z","circle"]},"legend":{"orient":"none","legendX":23,"legendY":283,"rowPadding":5,"labelExpr":"datum.label=='R'?'RapidEye_250m (m=0.16)':datum.label=='L'?'Landsat_250m (m=0.27)':'WorldView_250m (m=0.18)'"}}}},
{"data":{"name":"C_w"},"mark":{"type":"line","color":"#4a7ebb","strokeWidth":2.75,"interpolate":"monotone"},"encoding":{"x":{"field":"x","type":"quantitative"},"y":{"field":"y","type":"quantitative"}}}
]},
{"width":453,"height":359,"layer":[
{"data":{"name":"D_r"},"mark":{"type":"area","color":"#c0504d","stroke":"#c0504d"},"encoding":{"x":{"field":"x","type":"quantitative","scale":{"domain":[0,100],"nice":false,"zero":false},"axis":null},"y":{"field":"lo","type":"quantitative","scale":{"domain":[-0.4,0.8],"nice":false,"zero":false},"axis":{"values":[-0.4,-0.2,0,0.2,0.4,0.6,0.8],"format":".1f"}},"y2":{"field":"hi"}}},
{"data":{"name":"D_l"},"mark":{"type":"area","color":"#97b834","stroke":"#97b834"},"encoding":{"x":{"field":"x","type":"quantitative"},"y":{"field":"lo","type":"quantitative"},"y2":{"field":"hi"}}},
{"data":{"name":"D_p"},"mark":{"type":"point","filled":true,"size":14},"encoding":{"x":{"field":"x","type":"quantitative"},"y":{"field":"y","type":"quantitative"},"color":{"field":"s","type":"nominal","scale":{"domain":["R","L","W"],"range":["#c0504d","#97b834","#4f81bd"]},"legend":{"orient":"none","legendX":16,"legendY":292,"rowPadding":3.2,"labelExpr":"datum.label=='R'?'RapidEye_500m (m=0.16)':datum.label=='L'?'Landsat_500m (m=0.27)':'WorldView_500m (m=0.18)'"}},"shape":{"field":"s","type":"nominal","scale":{"domain":["R","L","W"],"range":["square","M0,-1.3L1.3,1L-1.3,1Z","circle"]},"legend":{"orient":"none","legendX":16,"legendY":292,"rowPadding":3.2,"labelExpr":"datum.label=='R'?'RapidEye_500m (m=0.16)':datum.label=='L'?'Landsat_500m (m=0.27)':'WorldView_500m (m=0.18)'"}}}},
{"data":{"name":"D_w"},"mark":{"type":"line","color":"#4a7ebb","strokeWidth":3,"interpolate":"monotone"},"encoding":{"x":{"field":"x","type":"quantitative"},"y":{"field":"y","type":"quantitative"}}}
]}
]}
